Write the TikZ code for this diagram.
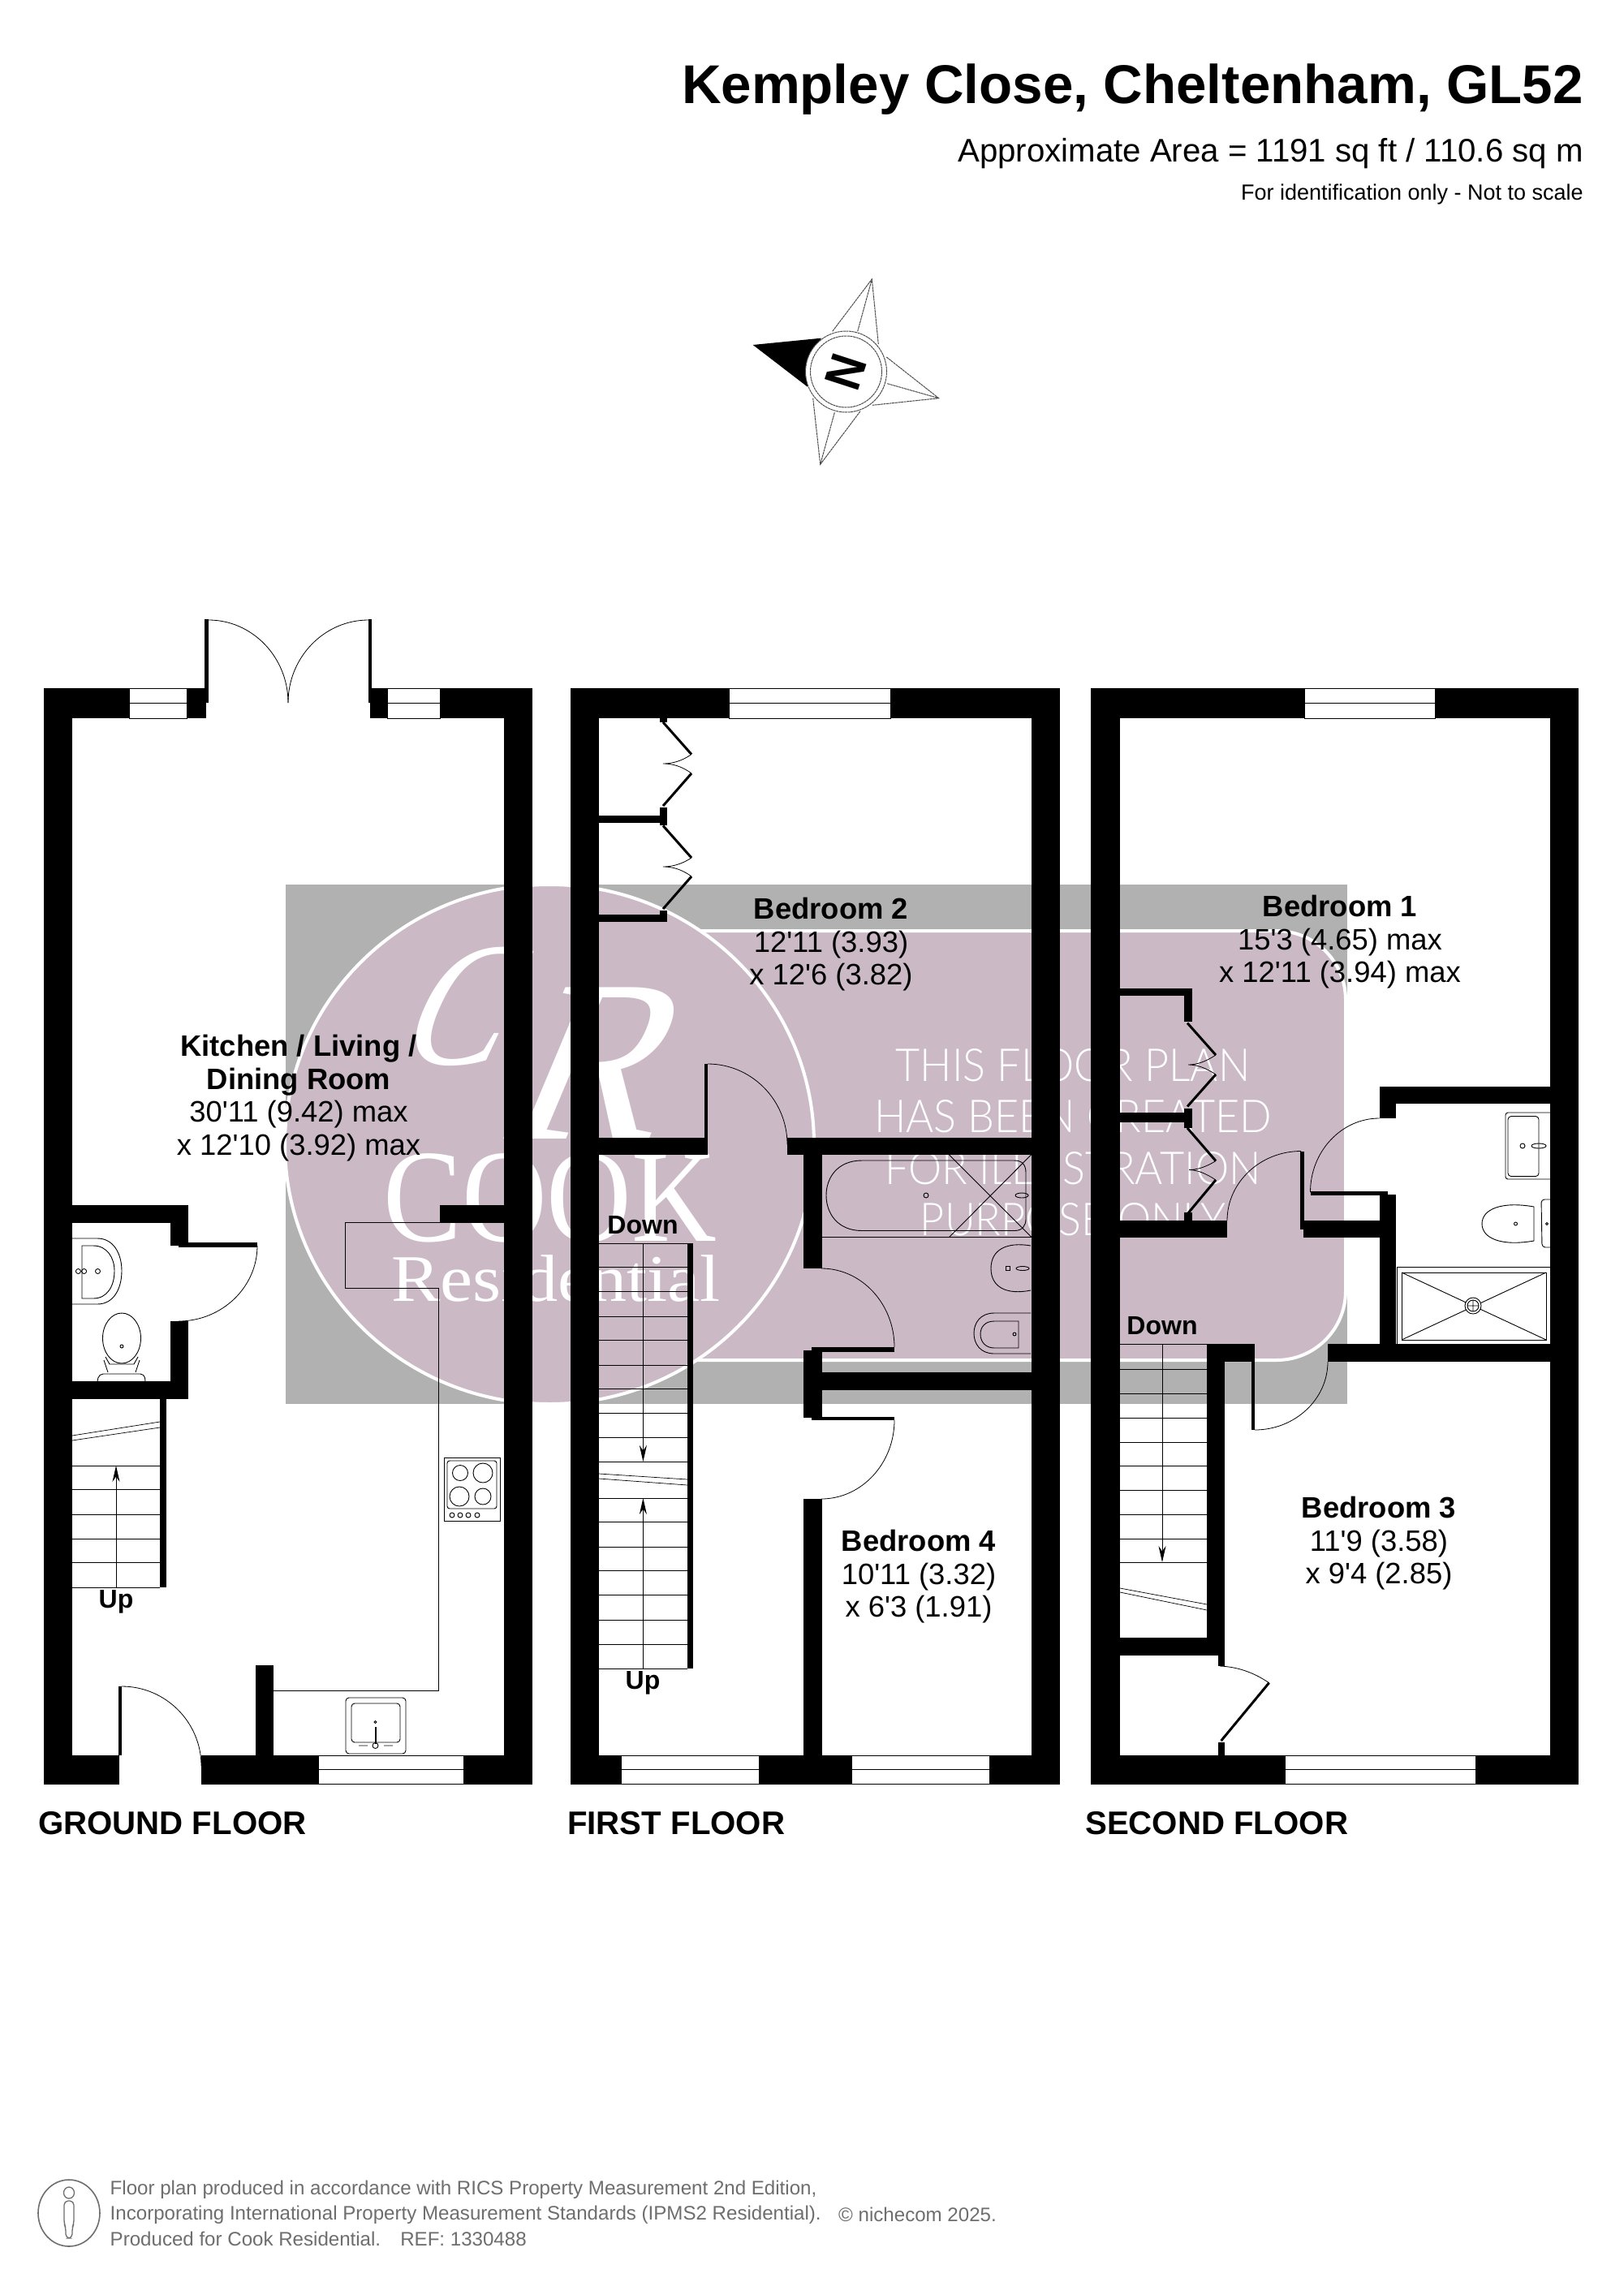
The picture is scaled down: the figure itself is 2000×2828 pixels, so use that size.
\documentclass[tikz,border=0pt]{standalone}
\usepackage{fontspec}
\setmainfont{Liberation Sans}[Ligatures=TeXOff]
\newfontfamily\markfont{Lato Light}
\newfontfamily\logofont{Liberation Serif}
\usetikzlibrary{calc,arrows.meta}
\definecolor{markgrey}{HTML}{B1B1B1}
\definecolor{markmauve}{HTML}{CBBAC6}
\definecolor{footgrey}{HTML}{6E6E6E}
\tikzset{
  wall/.style={fill=black},
  glazing/.style={draw=black,fill=white,line width=1pt},
  thinline/.style={draw=black,line width=1pt},
  fixture/.style={draw=black,line width=.9pt},
  swingline/.style={draw=black,line width=.8pt},
  foldline/.style={draw=black,line width=3pt},
  stairarrow/.style={draw=black,line width=1pt,-{Stealth[length=20pt,width=9pt]}},
  roomlabel/.style={align=center,inner sep=0pt,font=\fontsize{36.4}{40.5}\selectfont},
  stairlabel/.style={inner sep=0pt,font=\fontsize{32}{36}\selectfont\bfseries},
  floorlabel/.style={anchor=west,inner sep=0pt,font=\fontsize{40.2}{44}\selectfont\bfseries},
  marktext/.style={text=white,inner sep=0pt,font=\fontsize{56}{60}\selectfont\markfont},
  logotext/.style={text=white,inner sep=0pt},
  foottext/.style={text=footgrey,anchor=west,inner sep=0pt,font=\fontsize{24.1}{28}\selectfont},
  compassline/.style={draw=black!70,line width=1pt,dash pattern=on 3pt off .6pt}
}
\newcommand{\swing}[3]{\draw[swingline] (#1) .. controls ($(#1)!.55!(#2)$) and ($(#3)!.55!(#2)$) .. (#3);}
\begin{document}
\begin{tikzpicture}[x=1pt,y=-1pt]
  \fill[white] (0,0) rectangle (2000,2828);

  \fill[markgrey] (352,1090) rectangle (1660,1730);
  \draw[fill=markmauve,draw=white,line width=4pt,rounded corners=85pt] (676,1147) rectangle (1658,1676);
  \draw[fill=markmauve,draw=white,line width=4pt] (677,1410) ellipse [x radius=326pt,y radius=320pt];
  \node[logotext,xslant=.45,transform shape,font=\fontsize{218}{218}\selectfont\logofont] (logoc) at (578,1240) {\scalebox{.85}[1]{C}};
  \node[logotext,xslant=.42,transform shape,font=\fontsize{285}{285}\selectfont\logofont] (logor) at (745,1310) {R};
  \node[logotext,font=\fontsize{163}{163}\selectfont\logofont] (logocook) at (678,1476) {\scalebox{.89}[1]{COOK}};
  \node[logotext,font=\fontsize{82}{82}\selectfont\logofont] (logores) at (685,1575) {\scalebox{1.1}[1]{Residential}};
  \node[marktext] (markone) at (1322,1313) {\scalebox{.93}[1]{THIS FLOOR PLAN}};
  \node[marktext] (marktwo) at (1322,1376) {\scalebox{.93}[1]{HAS BEEN CREATED}};
  \node[marktext] (markthree) at (1322,1440) {\scalebox{.93}[1]{FOR ILLUSTRATION}};
  \node[marktext] (markfour) at (1322,1503) {\scalebox{.93}[1]{PURPOSE ONLY}};

  \node[anchor=east,inner sep=0pt,font=\fontsize{67.3}{70}\selectfont\bfseries] (title) at (1951,110) {Kempley Close, Cheltenham, GL52};
  \node[anchor=east,inner sep=0pt,font=\fontsize{40.2}{42}\selectfont] (area) at (1951,189) {Approximate Area = 1191 sq ft / 110.6 sq m};
  \node[anchor=east,inner sep=0pt,font=\fontsize{27}{30}\selectfont] (idnote) at (1951,240) {For identification only - Not to scale};

  \fill[black] (927.7,425) -- (1011.7,416.7) -- (995,476.7) -- cycle;
  \draw[compassline] (1025.7,408.3) -- (1074.3,344) -- (1082.3,424) (1056.7,408.3) -- (1074.3,344);
  \draw[compassline] (1092.3,440) -- (1156.7,490.7) -- (1075,499.3) (1093.3,472.7) -- (1156.7,490.7);
  \draw[compassline] (1060,506.7) -- (1010.7,572.3) -- (1001.7,490.7) (1028.3,508.3) -- (1010.7,572.3);
  \draw[compassline,fill=white] (1042.5,458) circle (50pt);
  \draw[compassline] (1042.5,458) circle (44pt);
  \node[inner sep=0pt,rotate=72,xscale=.9,transform shape,font=\fontsize{63}{63}\selectfont\bfseries] (north) at (1042.5,458) {N};

  \foreach \xa/\ya/\xb/\yb in {53.6/848/89/2198.5,621/848/656/2198.5,53.6/848/254/885,456/848/656/885,
      53.6/2163/147/2198.5,248/2163/656/2198.5,89/1485/232/1507,210/1507/232/1535,210/1628/232/1724,
      89/1702/232/1724,542/1485/621/1507,315/2052/337/2163,220/1531/317/1537,197/1724/205/1956,
      252/763/257/866,454/763/458/866,146/2078/150/2163}
    \fill[wall] (\xa,\ya) rectangle (\xb,\yb);
  \foreach \xa/\xb/\ya/\yb in {159/230/848/885,477/542/848/885,392/571/2163/2198.5}
    \draw[glazing] (\xa,\ya) rectangle (\xb,\yb) (\xa,{(\ya+\yb)/2}) -- (\xb,{(\ya+\yb)/2});
  \swing{257,764}{355,764}{355,866}
  \swing{454,764}{355,764}{355,866}
  \swing{317,1535}{317,1628}{220,1628}
  \swing{150,2078}{248,2078}{248,2176}
  \foreach \y in {1806,1835,1866,1896,1925,1956}
    \draw[thinline] (89,\y) -- (197,\y);
  \draw[thinline,line width=.7pt] (89,1769) -- (197,1752) (89,1775) -- (197,1759);
  \draw[stairarrow] (143,1956) -- (143,1806);
  \node[stairlabel] (upground) at (143,1974) {Up};

  \draw[thinline] (542,1506) -- (425,1506) -- (425,1587) -- (540,1587) -- (540,2083) -- (337,2083);
  \draw[fixture] (547,1796) rectangle (616,1874);
  \draw[fixture,rounded corners=3pt] (551,1800) rectangle (612,1859);
  \foreach \cx/\cy/\r in {567/1815/9.5,595/1815/12,566/1844/12,595/1844/10,557/1867/3,567/1867/3,577/1867/3,588/1867/3}
    \draw[fixture] (\cx,\cy) circle (\r pt);
  \draw[fixture,rounded corners=4pt] (426,2092) rectangle (500,2161);
  \draw[fixture,rounded corners=4pt] (433,2099) rectangle (493,2147);
  \draw[black,line width=2pt] (462.5,2128) -- (462.5,2149);
  \draw[fixture] (462.5,2122) circle (1.5pt) (462.5,2151) circle (3.5pt) (442,2151) -- (453,2151) (473,2151) -- (484,2151);
  \draw[fixture] (89,1526) -- (120,1526) .. controls (140,1526) and (150,1545) .. (150,1566) .. controls (150,1588) and (140,1607) .. (120,1607) -- (89,1607);
  \draw[fixture] (101,1535) -- (115,1535) .. controls (132,1535) and (141,1550) .. (141,1566) .. controls (141,1585) and (132,1600) .. (115,1600) -- (101,1600) -- cycle;
  \draw[fixture] (96.4,1566.5) circle (3pt) (103.6,1566.5) circle (3pt) (120.5,1566.5) circle (3pt);
  \draw[fixture] (150,1649) ellipse [x radius=23.5pt,y radius=31pt];
  \draw[fixture] (150,1659) circle (2pt) (130,1672) -- (135,1681) -- (165,1681) -- (170,1672) (128,1676) -- (133,1691) (172,1676) -- (167,1691);
  \draw[fixture,rounded corners=5pt] (120,1702) -- (122,1693) -- (178,1693) -- (179,1702);

  \foreach \xa/\ya/\xb/\yb in {703/848/738/2198.5,1270.5/848/1305.5/2198.5,703/848/1305.5/885,703/2163/1305.5/2198.5,
      738/1005/822/1014,813/995/822/1017,738/1127/822/1136,813/1122/822/1136,813/885/822/890,
      738/1402/872/1423,868/1311/872/1414,970/1402/1270.5/1423,990/1423/1012.5/1563,1000/1660/1102/1666,
      990/1664/1012.5/1747,1012.5/1691/1270.5/1713,1000/1746/1102/1750,990/1847/1012.5/2163,847/1532/854/2056}
    \fill[wall] (\xa,\ya) rectangle (\xb,\yb);
  \foreach \xa/\xb/\ya/\yb in {898/1097/848/885,765.5/935.5/2163/2198.5,1049.5/1219/2163/2198.5}
    \draw[glazing] (\xa,\ya) rectangle (\xb,\yb) (\xa,{(\ya+\yb)/2}) -- (\xb,{(\ya+\yb)/2});
  \draw[foldline] (817,890) -- (852,929.5) (852,953) -- (817,993) (817,1017.5) -- (852,1057) (852,1080) -- (817,1120);
  \draw[swingline] (852,929.5) .. controls (840,938) and (828,941) .. (817,941) .. controls (828,941) and (840,944) .. (852,953);
  \draw[swingline] (852,1057) .. controls (840,1065) and (828,1068) .. (817,1068) .. controls (828,1068) and (840,1071) .. (852,1080);
  \swing{872,1311}{970,1311}{970,1410}
  \swing{1012,1563}{1102,1563}{1102,1660}
  \swing{1102,1750}{1102,1847}{1012,1847}
  \foreach \y in {1532,1561,1591,1622,1651,1682,1711,1741,1771,1801,1846,1875,1906,1935,1965,1996,2026,2056}
    \draw[thinline] (738,\y) -- (847,\y);
  \draw[thinline,line width=.7pt] (738,1816) -- (847,1823) (738,1822) -- (847,1830);
  \draw[stairarrow] (792.4,1532) -- (792.4,1801);
  \draw[stairarrow] (792.4,2056) -- (792.4,1846);
  \node[stairlabel] (downfirst) at (792,1510) {Down};
  \node[stairlabel] (upfirst) at (792,2074) {Up};

  \draw[thinline] (1012.5,1524) -- (1270.5,1524);
  \draw[fixture] (1062,1430) -- (1250,1430) .. controls (1260,1430) and (1264,1436) .. (1264,1445) -- (1264,1502) .. controls (1264,1510) and (1260,1516.5) .. (1250,1516.5) -- (1062,1516.5) .. controls (1032,1516.5) and (1018,1495) .. (1018,1473) .. controls (1018,1451) and (1032,1430) .. (1062,1430) -- cycle;
  \draw[fixture] (1169.5,1423) -- (1270.5,1524) (1170,1524) -- (1270.5,1423);
  \draw[fixture] (1141,1473) circle (3pt) (1259,1473) ellipse [x radius=8pt,y radius=3pt];
  \draw[fixture] (1270,1535) .. controls (1240,1530) and (1221,1540) .. (1221,1563) .. controls (1221,1586) and (1240,1596) .. (1270,1590);
  \draw[fixture] (1239.5,1560.5) rectangle (1244.5,1565.5) (1260,1563) ellipse [x radius=8pt,y radius=2.5pt];
  \draw[fixture] (1270,1618) -- (1225,1618) .. controls (1208,1618) and (1200,1630) .. (1200,1643) .. controls (1200,1656) and (1208,1668) .. (1225,1668) -- (1270,1668);
  \draw[fixture] (1255,1628) -- (1225,1628) .. controls (1214,1628) and (1208,1635) .. (1208,1644) .. controls (1208,1653) and (1214,1661) .. (1225,1661) -- (1255,1661) -- cycle;
  \draw[fixture] (1250,1644) circle (2pt);

  \foreach \xa/\ya/\xb/\yb in {1344/848/1380/2198.5,1910.4/848/1945/2198.5,1344/848/1945/885,1344/2163/1945/2198.5,
      1380/1217.6/1468.5/1227,1459/1217.6/1468.5/1259,1380/1371/1465/1382.6,1459/1366/1468.5/1390,1459/1494/1468.5/1504,
      1380/1503.7/1512/1524.7,1602/1418.5/1607/1515,1606/1503.7/1699.5/1524.7,1699.5/1338.6/1910.4/1360,1699.5/1360/1720/1378,
      1614.5/1468/1710/1472.6,1699.5/1472/1720/1656,1636/1656/1910.4/1678,1487/1656/1542.5/1678,1542/1656/1546/1762,
      1487/1656/1509/2018,1380/2018/1509/2039.6,1500.5/2039.6/1509/2053,1500.5/2147/1509/2163}
    \fill[wall] (\xa,\ya) rectangle (\xb,\yb);
  \foreach \xa/\xb/\ya/\yb in {1607/1768.5/848/885,1583/1818/2163/2198.5}
    \draw[glazing] (\xa,\ya) rectangle (\xb,\yb) (\xa,{(\ya+\yb)/2}) -- (\xb,{(\ya+\yb)/2});
  \draw[foldline] (1463,1260.6) -- (1498,1300) (1498,1324) -- (1463,1363.5) (1463,1390) -- (1498,1430.5) (1498,1454) -- (1463,1496);
  \draw[swingline] (1498,1300) .. controls (1486,1308) and (1475,1312) .. (1464,1312) .. controls (1475,1312) and (1486,1316) .. (1498,1324);
  \draw[swingline] (1498,1430.5) .. controls (1486,1438) and (1475,1441.5) .. (1465,1441.5) .. controls (1475,1441.5) and (1486,1446) .. (1498,1454);
  \swing{1512,1504}{1512,1418.5}{1603,1418.5}
  \swing{1699.5,1378}{1614.5,1378}{1614.5,1469}
  \swing{1546,1762}{1636,1762}{1636,1678}
  \draw[swingline] (1503,2053) .. controls (1528,2054) and (1548,2063) .. (1563.6,2073.7);
  \draw[foldline] (1563.6,2073.7) -- (1504.6,2145);
  \foreach \y in {1656,1687,1717,1747,1777,1806.5,1836,1866,1896,1925}
    \draw[thinline] (1380,\y) -- (1487,\y);
  \draw[thinline,line width=.7pt] (1380,1957) -- (1487,1977) (1380,1962) -- (1487,1984);
  \draw[stairarrow] (1432,1656) -- (1432,1925);
  \node[stairlabel] (downsecond) at (1432,1634) {Down};

  \draw[fixture] (1721,1656) -- (1721,1561) -- (1910,1561);
  \draw[fixture] (1727,1568) rectangle (1905,1651);
  \draw[fixture] (1727,1568) -- (1905,1651) (1727,1651) -- (1905,1568);
  \draw[fixture,fill=white] (1815,1609) circle (10pt);
  \draw[fixture] (1815,1609) circle (7pt) (1808,1609) -- (1822,1609) (1815,1602) -- (1815,1616);
  \draw[fixture,rounded corners=3pt] (1910,1371) -- (1855,1371) -- (1855,1453) -- (1910,1453);
  \draw[fixture,rounded corners=4pt] (1858,1375.5) rectangle (1896,1449.6);
  \draw[fixture] (1876,1412) circle (3pt) (1896,1412) ellipse [x radius=9pt,y radius=3pt];
  \draw[fixture] (1890,1487) .. controls (1850,1480) and (1826,1490) .. (1826,1508) .. controls (1826,1526) and (1850,1536) .. (1890,1529) -- cycle;
  \draw[fixture] (1867.5,1508) circle (2pt) (1906,1508) circle (1.5pt);
  \draw[fixture,rounded corners=4pt] (1910,1478) -- (1899,1478) -- (1900,1537) -- (1910,1537);

  \node[roomlabel] (kitchen) at (368,1353) {\textbf{Kitchen / Living /}\\\textbf{Dining Room}\\30'11 (9.42) max\\x 12'10 (3.92) max};
  \node[roomlabel] (bedtwo) at (1024,1164) {\textbf{Bedroom 2}\\12'11 (3.93)\\x 12'6 (3.82)};
  \node[roomlabel] (bedfour) at (1132,1943) {\textbf{Bedroom 4}\\10'11 (3.32)\\x 6'3 (1.91)};
  \node[roomlabel] (bedone) at (1651,1161) {\textbf{Bedroom 1}\\15'3 (4.65) max\\x 12'11 (3.94) max};
  \node[roomlabel] (bedthree) at (1699,1902) {\textbf{Bedroom 3}\\11'9 (3.58)\\x 9'4 (2.85)};

  \node[floorlabel] (groundname) at (47,2247) {GROUND FLOOR};
  \node[floorlabel] (firstname) at (699,2247) {FIRST FLOOR};
  \node[floorlabel] (secondname) at (1337,2247) {SECOND FLOOR};

  \draw[footgrey,line width=1.6pt] (85,2727) ellipse [x radius=38pt,y radius=41pt];
  \draw[footgrey,line width=1.3pt] (85,2702) ellipse [x radius=6.5pt,y radius=7pt];
  \draw[footgrey,line width=1.3pt,rounded corners=5pt] (79,2712) -- (91,2712) -- (91,2740) -- (89,2745) -- (89,2758) -- (81,2758) -- (81,2745) -- (79,2740) -- cycle;
  \node[foottext] (footone) at (135.5,2698) {Floor plan produced in accordance with RICS Property Measurement 2nd Edition,};
  \node[foottext] (foottwo) at (135.5,2729) {Incorporating International Property Measurement Standards (IPMS2 Residential).};
  \node[foottext] (footbrand) at (1033,2729) {© nichecom 2025.};
  \node[foottext] (footthree) at (135.5,2759) {Produced for Cook Residential.\quad REF: 1330488};
\end{tikzpicture}
\end{document}
